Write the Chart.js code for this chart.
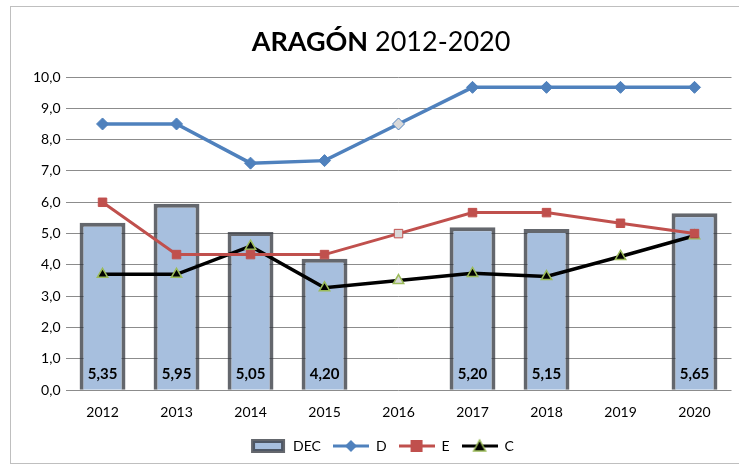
<!DOCTYPE html>
<html>
<head>
<meta charset="utf-8">
<script src="https://cdn.jsdelivr.net/npm/chart.js@4"></script>
<style>
  body { margin: 0; background: #fff; }
  #wrap { width: 739px; height: 465px; position: relative; }
</style>
</head>
<body>
<div id="wrap"><canvas id="chart" width="739" height="465"></canvas></div>
<script>
const years = ["2012", "2013", "2014", "2015", "2016", "2017", "2018", "2019", "2020"];
const decValues = [5.35, 5.95, 5.05, 4.20, null, 5.20, 5.15, null, 5.65];
const dValues = [8.5, 8.5, 7.25, 7.33, 8.5, 9.67, 9.67, 9.67, 9.67];
const eValues = [6.0, 4.33, 4.33, 4.33, 5.0, 5.67, 5.67, 5.33, 5.0];
const cValues = [3.7, 3.7, 4.6, 3.27, 3.5, 3.73, 3.63, 4.27, 4.93];
const yTicks = [0, 1, 2, 3, 4, 5, 6, 7, 8, 9, 10];

const FONT = "Lato, 'Liberation Sans', sans-serif";
const BLUE = "#4F81BD";
const RED = "#C0504D";
const GREEN = "#9BBB59";
const PALE = "#D9D9D9";
const BAR_EDGE = "rgba(48,52,60,0.75)";

// 2016 markers are drawn hollow (grey fill) in the original
function fills(color) {
    return years.map((y) => (y === "2016" ? PALE : color));
}

// small legend symbols
function legendIcon(kind) {
    const c = document.createElement("canvas");
    c.width = 36; c.height = 16;
    const g = c.getContext("2d");
    if (kind === "bar") {
        g.fillStyle = "#A7BFDE";
        g.strokeStyle = BAR_EDGE;
        g.lineWidth = 4;
        g.fillRect(3, 3, 30, 10);
        g.strokeRect(3, 3, 30, 10);
        return c;
    }
    const col = kind === "d" ? BLUE : kind === "e" ? RED : "#000";
    g.strokeStyle = col;
    g.lineWidth = 3;
    g.beginPath(); g.moveTo(0, 8); g.lineTo(36, 8); g.stroke();
    if (kind === "d") {
        g.fillStyle = BLUE;
        g.beginPath(); g.moveTo(18, 2); g.lineTo(24, 8); g.lineTo(18, 14); g.lineTo(12, 8); g.closePath(); g.fill();
    } else if (kind === "e") {
        g.fillStyle = RED;
        g.fillRect(12, 2, 12, 12);
    } else {
        g.fillStyle = "#000";
        g.strokeStyle = GREEN;
        g.lineWidth = 1.5;
        g.beginPath(); g.moveTo(18, 2); g.lineTo(24, 13); g.lineTo(12, 13); g.closePath(); g.fill(); g.stroke();
    }
    return c;
}

const frameAndTitle = {
    id: "frameAndTitle",
    beforeDraw(chart) {
        const ctx = chart.ctx;
        ctx.save();
        ctx.fillStyle = "#fff";
        ctx.fillRect(0, 0, chart.width, chart.height);
        ctx.strokeStyle = "#BFBFBF";
        ctx.lineWidth = 1;
        ctx.strokeRect(10.5, 6.5, 740, 457);
        ctx.restore();
    },
    afterDraw(chart) {
        const ctx = chart.ctx;
        ctx.save();
        ctx.fillStyle = "#000";
        ctx.textBaseline = "middle";
        const bold = "ARAGÓN";
        const rest = " 2012-2020";
        ctx.font = "bold 27px " + FONT;
        const wb = ctx.measureText(bold).width;
        ctx.font = "27px " + FONT;
        const wr = ctx.measureText(rest).width;
        let x = 381 - (wb + wr) / 2;
        ctx.font = "bold 27px " + FONT;
        ctx.fillText(bold, x, 42);
        ctx.font = "27px " + FONT;
        ctx.fillText(rest, x + wb, 42);
        ctx.restore();
    }
};

const barLabels = {
    id: "barLabels",
    afterDatasetsDraw(chart) {
        const ctx = chart.ctx;
        const meta = chart.getDatasetMeta(0);
        const yScale = chart.scales.y;
        ctx.save();
        ctx.font = "bold 15px " + FONT;
        ctx.fillStyle = "#000";
        ctx.textAlign = "center";
        ctx.textBaseline = "middle";
        meta.data.forEach((bar, i) => {
            const v = decValues[i];
            if (v === null) return;
            ctx.fillText(v.toFixed(2).replace(".", ","), bar.x, yScale.getPixelForValue(0) - 16);
        });
        ctx.restore();
    }
};

new Chart(document.getElementById("chart"), {
    data: {
        labels: years,
        datasets: [
            {
                type: "bar",
                label: "DEC",
                data: decValues,
                backgroundColor: "#A7BFDE",
                borderColor: BAR_EDGE,
                borderWidth: 4,
                categoryPercentage: 1,
                barPercentage: 0.62,
                order: 4,
                legendIcon: legendIcon("bar")
            },
            {
                type: "line",
                label: "D",
                data: dValues,
                borderColor: BLUE,
                borderWidth: 3.5,
                pointStyle: "rectRot",
                pointRadius: 6,
                pointBackgroundColor: fills(BLUE),
                pointBorderColor: BLUE,
                pointBorderWidth: 1,
                order: 1,
                legendIcon: legendIcon("d")
            },
            {
                type: "line",
                label: "E",
                data: eValues,
                borderColor: RED,
                borderWidth: 3,
                pointStyle: "rect",
                pointRadius: 6,
                pointBackgroundColor: fills(RED),
                pointBorderColor: RED,
                pointBorderWidth: 1,
                order: 2,
                legendIcon: legendIcon("e")
            },
            {
                type: "line",
                label: "C",
                data: cValues,
                borderColor: "#000",
                borderWidth: 3.5,
                pointStyle: "triangle",
                pointRadius: 6,
                pointBackgroundColor: years.map((y) => (y === "2016" ? PALE : "#000")),
                pointBorderColor: GREEN,
                pointBorderWidth: 1.5,
                order: 3,
                legendIcon: legendIcon("c")
            }
        ]
    },
    options: {
        responsive: false,
        animation: false,
        devicePixelRatio: 1,
        layout: { padding: { top: 77, left: 28, right: 3, bottom: 2 } },
        scales: {
            x: {
                grid: { display: false },
                border: { display: false },
                ticks: { color: "#000", font: { family: FONT, size: 14 }, padding: 6, maxRotation: 0 }
            },
            y: {
                min: 0,
                max: 10,
                afterBuildTicks: (axis) => {
                    axis.ticks = yTicks.map((v) => ({ value: v }));
                },
                grid: { color: "#8C8C8C", lineWidth: 1, drawTicks: false },
                border: { display: false },
                ticks: {
                    color: "#000",
                    font: { family: FONT, size: 14 },
                    padding: 5,
                    callback: (v) => v.toFixed(1).replace(".", ",")
                }
            }
        },
        plugins: {
            title: { display: false },
            tooltip: { enabled: false },
            legend: {
                position: "bottom",
                labels: {
                    color: "#000",
                    font: { family: FONT, size: 14 },
                    usePointStyle: true,
                    pointStyleWidth: 36,
                    padding: 12,
                    generateLabels: (chart) => chart.data.datasets.map((ds, i) => ({
                        text: ds.label,
                        pointStyle: ds.legendIcon,
                        datasetIndex: i,
                        hidden: false,
                        fontColor: "#000",
                        lineWidth: 0,
                        strokeStyle: "transparent",
                        fillStyle: "transparent"
                    }))
                }
            }
        }
    },
    plugins: [frameAndTitle, barLabels]
});
</script>
</body>
</html>
